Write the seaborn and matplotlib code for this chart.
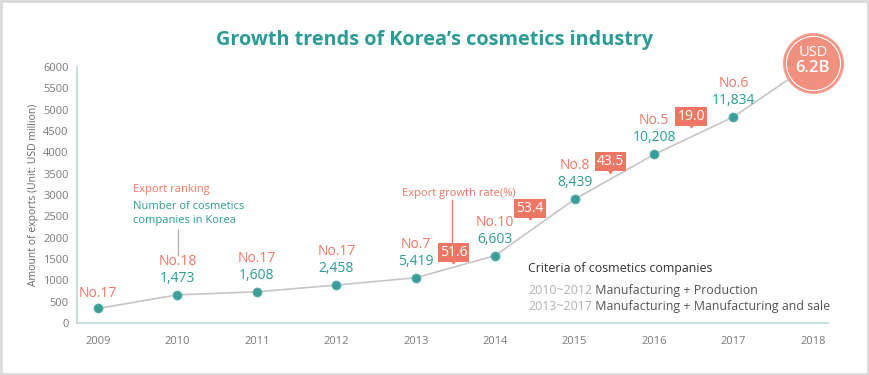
import seaborn as sns
import matplotlib.pyplot as plt
import numpy as np
import pandas as pd
from matplotlib.patches import Rectangle
from matplotlib.transforms import offset_copy

sns.set_style('white')
plt.rcParams['font.family'] = ['Open Sans', 'DejaVu Sans']

# 数据
years = [2009, 2010, 2011, 2012, 2013, 2014, 2015, 2016, 2017, 2018]
exports = [340, 660, 730, 890, 1060, 1580, 2900, 3950, 4830, 6100]
ranks = [17, 18, 17, 17, 7, 10, 8, 5, 6]
companies = [None, 1473, 1608, 2458, 5419, 6603, 8439, 10208, 11834]
growth_from = [2013, 2014, 2015, 2016]
growth = [51.6, 53.4, 43.5, 19.0]
total_label = ['USD', '6.2B']

# 颜色
teal = '#2b9c95'
salmon = '#ef7664'
salmon_light = '#f0907f'
line_gray = '#c4c6c2'
spine_col = '#bcd7db'
tick_col = '#7a7a7a'

df = pd.DataFrame({'year': years, 'exports': exports})

fig = plt.figure(figsize=(8.7, 3.75), dpi=100)
ax = fig.add_axes([77 / 870, 1 - 323 / 375, 751 / 870, 256 / 375])

sns.lineplot(data=df, x='year', y='exports', color=line_gray, linewidth=1.2, ax=ax, zorder=2)
sns.scatterplot(data=df.iloc[:-1], x='year', y='exports', color='#3b9e98', s=42,
                edgecolor='#5fb3ad', linewidth=0.6, ax=ax, zorder=3)

ax.set_xlim(2008.735, 2018.19)
ax.set_ylim(0, 6000)
ax.set_xticks(years)
ax.set_yticks(np.arange(0, 6001, 500))
ax.tick_params(axis='both', length=0, labelsize=8, colors=tick_col)
ax.tick_params(axis='x', pad=9)
ax.tick_params(axis='y', pad=6)
ax.set_xlabel('')
ax.set_ylabel('Amount of exports (Unit: USD million)', fontsize=7.5, color='#666666', labelpad=3)
for s in ['top', 'right']:
    ax.spines[s].set_visible(False)
for s in ['left', 'bottom']:
    ax.spines[s].set_color(spine_col)
    ax.spines[s].set_linewidth(1.2)

# 排名和企业数量
for i, r in enumerate(ranks):
    x, y = years[i], exports[i]
    if companies[i] is None:
        ax.annotate(f'No.{r}', (x, y), xytext=(0, 15), textcoords='offset pixels',
                    ha='center', va='center', fontsize=10, color=salmon)
    else:
        ax.annotate(f'{companies[i]:,}', (x, y), xytext=(0, 16.5), textcoords='offset pixels',
                    ha='center', va='center', fontsize=10, color=teal)
        ax.annotate(f'No.{r}', (x, y), xytext=(0, 33.5), textcoords='offset pixels',
                    ha='center', va='center', fontsize=10, color=salmon)

# 增长率标签
box_lift = [14.5, 19, 15, 19.5]
box_shift = [-2, -5, -4, -2.5]
for j, g in enumerate(growth):
    i = years.index(growth_from[j])
    mx = (years[i] + years[i + 1]) / 2
    my = (exports[i] + exports[i + 1]) / 2
    ax.annotate(f'{g:.1f}', (mx, my), xytext=(box_shift[j], box_lift[j]), textcoords='offset pixels',
                ha='center', va='center', fontsize=10, color='white', zorder=5,
                bbox=dict(boxstyle='square,pad=0.15', fc=salmon, ec='none'))
    tr = offset_copy(ax.transData, fig=fig, x=box_shift[j], y=box_lift[j] - 9, units='dots')
    ax.plot([mx], [my], marker='v', color=salmon, markersize=3.5, transform=tr, zorder=5)

# 图例说明 1
x0, y0 = years[1], exports[1]
ax.annotate('Export ranking', (x0, y0), xytext=(-44, 105), textcoords='offset pixels',
            ha='left', va='center', fontsize=8, color=salmon)
ax.annotate('Number of cosmetics\ncompanies in Korea', (x0, y0), xytext=(-44, 81),
            textcoords='offset pixels', ha='left', va='center', fontsize=8, color=teal,
            linespacing=1.35)
tr = offset_copy(ax.transData, fig=fig, x=1, y=39, units='dots')
tr2 = offset_copy(ax.transData, fig=fig, x=1, y=65, units='dots')
ax.annotate('', xy=(x0, y0), xycoords=tr, xytext=(x0, y0), textcoords=tr2,
            arrowprops=dict(arrowstyle='-', color='#b0b0b0', lw=0.9, shrinkA=0, shrinkB=0))

# 图例说明 2
i = years.index(growth_from[0])
mx = (years[i] + years[i + 1]) / 2
my = (exports[i] + exports[i + 1]) / 2
ax.annotate('Export growth rate(%)', (mx, my), xytext=(-53, 73.5), textcoords='offset pixels',
            ha='left', va='center', fontsize=8, color=salmon)
tr = offset_copy(ax.transData, fig=fig, x=-3, y=21, units='dots')
tr2 = offset_copy(ax.transData, fig=fig, x=-3, y=66.5, units='dots')
ax.annotate('', xy=(mx, my), xycoords=tr, xytext=(mx, my), textcoords=tr2,
            arrowprops=dict(arrowstyle='-', color=salmon, lw=0.9, shrinkA=0, shrinkB=0))

# 2018 圆圈
ax.plot([years[-1]], [exports[-1]], marker='o', markersize=43, color=salmon_light,
        markeredgecolor='#f3a597', markeredgewidth=1, clip_on=False, zorder=6)
ax.plot([years[-1]], [exports[-1]], marker='o', markersize=39, markerfacecolor='none',
        markeredgecolor='white', markeredgewidth=0.8, clip_on=False, zorder=7)
ax.annotate(total_label[0], (years[-1], exports[-1]), xytext=(0, 10), textcoords='offset pixels',
            ha='center', va='center', fontsize=10.5, color='white', zorder=8, annotation_clip=False)
ax.annotate(total_label[1], (years[-1], exports[-1]), xytext=(0, -5), textcoords='offset pixels',
            ha='center', va='center', fontsize=12, color='white', fontweight='semibold',
            zorder=8, annotation_clip=False)

# 企业标准说明
ax.text(0.6005, 0.211, 'Criteria of cosmetics companies', transform=ax.transAxes,
        ha='left', va='center', fontsize=8.9, color='#333333')
for k, (period, desc) in enumerate([('2010~2012', ' Manufacturing + Production'),
                                    ('2013~2017', ' Manufacturing + Manufacturing and sale')]):
    t = ax.text(0.6005, 0.126 - k * 0.06, period, transform=ax.transAxes,
                ha='left', va='center', fontsize=8.9, color='#b0b0b0')
    ax.annotate(desc, xy=(1, 0.5), xycoords=t, ha='left', va='center',
                fontsize=8.9, color='#555555')

# 标题
fig.text(0.5, 1 - 40 / 375, 'Growth trends of Korea\u2019s cosmetics industry', ha='center',
         va='center', fontsize=14.3, fontweight='bold', color=teal)

# 外框
fig.patches.append(Rectangle((0.001, 0.002), 0.997, 0.995, transform=fig.transFigure,
                             fill=False, edgecolor='#d9d9d9', linewidth=2))

fig.savefig('out.png', dpi=100)
